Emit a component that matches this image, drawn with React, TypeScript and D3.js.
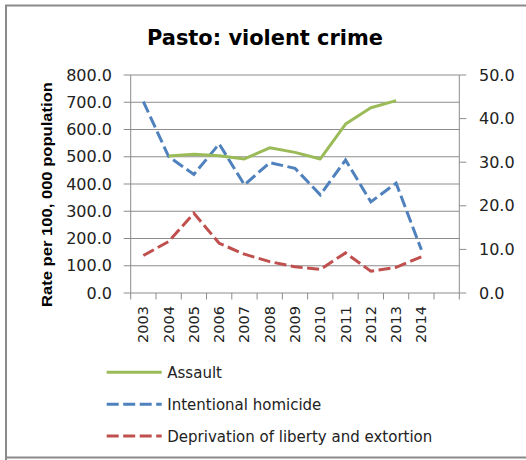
import React from "react";
import * as d3 from "d3";

const years = ["2003", "2004", "2005", "2006", "2007", "2008", "2009", "2010", "2011", "2012", "2013", "2014"];
const emptySlots = [""];
const assault: (number | null)[] = [null, 503, 509, 504, 492, 533, 516, 492, 620, 680, 706, null];
const homicide: (number | null)[] = [43.9, 31.3, 27.2, 34.2, 24.8, 29.9, 28.6, 22.5, 30.5, 20.9, 25.2, 9.9];
const deprivation: (number | null)[] = [8.6, 11.8, 18.3, 11.4, 8.9, 7.2, 6.0, 5.4, 9.2, 5.0, 5.9, 8.3];
const leftTicks = [0, 100, 200, 300, 400, 500, 600, 700, 800];
const rightTicks = [0, 10, 20, 30, 40, 50];
const legendLabels = ["Assault", "Intentional homicide", "Deprivation of liberty and extortion"];

const FONT = "DejaVu Sans, Verdana, sans-serif";
const GREEN = "#9BBB59";
const BLUE = "#4F81BD";
const RED = "#C0504D";
const GRID = "#8c8c8c";

export default function App() {
  const left = 130.7, right = 459.3, top = 75, bottom = 293;
  const cats = [...years, ...emptySlots];
  const x = d3.scaleBand<string>().domain(cats.map((c, i) => c + "#" + i)).range([left, right]).padding(0);
  const xc = (i: number) => (x(cats[i] + "#" + i) as number) + x.bandwidth() / 2;
  const yL = d3.scaleLinear().domain([0, 800]).range([bottom, top]);
  const yR = d3.scaleLinear().domain([0, 50]).range([bottom, top]);

  const mk = (vals: (number | null)[], sc: d3.ScaleLinear<number, number>) =>
    d3
      .line<number | null>()
      .defined((d) => d !== null)
      .x((_, i) => xc(i))
      .y((d) => sc(d as number))(vals) || "";

  const boundaries = d3.range(cats.length + 1).map((i) => left + i * x.bandwidth());

  const series = [
    { label: legendLabels[0], color: GREEN, dash: undefined as string | undefined },
    { label: legendLabels[1], color: BLUE, dash: "12 4.5" },
    { label: legendLabels[2], color: RED, dash: "12 4.5" },
  ];

  return (
    <svg width={526} height={460} style={{ position: "absolute", left: 0, top: 0, background: "#fff" }}>
      <rect x={0} y={0} width={526} height={460} fill="#fff" />
      {/* border */}
      <path d="M6,460 L6,5.5 L526,5.5" fill="none" stroke="#8a8a8a" strokeWidth={2} />
      <path d="M6,457.5 L526,457.5" fill="none" stroke="#8a8a8a" strokeWidth={2} />

      <text
        x={265}
        y={44.5}
        textAnchor="middle"
        fontFamily={FONT}
        fontWeight="bold"
        fontSize={22}
        textLength={236}
        lengthAdjust="spacingAndGlyphs"
        fill="#000"
      >
        Pasto: violent crime
      </text>

      {/* gridlines */}
      {leftTicks.map((t) => (
        <line key={"g" + t} x1={left - 7} x2={right} y1={yL(t)} y2={yL(t)} stroke={GRID} strokeWidth={1} />
      ))}
      {/* left axis */}
      <line x1={left} x2={left} y1={top} y2={bottom} stroke={GRID} strokeWidth={1} />
      {leftTicks.map((t) => (
        <text key={"lt" + t} x={112} y={yL(t) + 5.5} textAnchor="end" fontFamily={FONT} fontSize={16} fill="#222">
          {t.toFixed(1)}
        </text>
      ))}
      {/* right axis */}
      <line x1={right} x2={right} y1={top} y2={bottom} stroke={GRID} strokeWidth={1} />
      {rightTicks.map((t) => (
        <g key={"rt" + t}>
          <line x1={right} x2={right + 7} y1={yR(t)} y2={yR(t)} stroke={GRID} strokeWidth={1} />
          <text x={479} y={yR(t) + 5.5} textAnchor="start" fontFamily={FONT} fontSize={16} fill="#222">
            {t.toFixed(1)}
          </text>
        </g>
      ))}
      {/* x axis ticks */}
      {boundaries.map((bx, i) => (
        <line key={"xt" + i} x1={bx} x2={bx} y1={bottom} y2={bottom + 6.5} stroke={GRID} strokeWidth={1} />
      ))}
      {cats.map((c, i) =>
        c ? (
          <text
            key={"xl" + i}
            transform={`translate(${xc(i) + 5},${306}) rotate(-90)`}
            textAnchor="end"
            fontFamily={FONT}
            fontSize={14.5}
            fill="#222"
          >
            {c}
          </text>
        ) : null
      )}

      {/* y axis title */}
      <text
        transform={`translate(51.5,194.5) rotate(-90)`}
        textAnchor="middle"
        fontFamily="Liberation Sans, Arial, sans-serif"
        fontWeight="bold"
        fontSize={15.5}
        textLength={225}
        lengthAdjust="spacingAndGlyphs"
        fill="#000"
      >
        Rate per 100, 000 population
      </text>

      {/* lines */}
      <path d={mk(deprivation, yR)} fill="none" stroke={RED} strokeWidth={3} strokeDasharray="12 4.5" />
      <path d={mk(homicide, yR)} fill="none" stroke={BLUE} strokeWidth={3} strokeDasharray="12 4.5" />
      <path d={mk(assault, yL)} fill="none" stroke={GREEN} strokeWidth={3} strokeLinejoin="round" />

      {/* legend */}
      {series.map((s, i) => {
        const ly = 372.3 + i * 31.9;
        return (
          <g key={"lg" + i}>
            <line x1={106.7} x2={161.7} y1={ly} y2={ly} stroke={s.color} strokeWidth={3} strokeDasharray={s.dash} />
            <text x={167.3} y={ly + 5.5} fontFamily={FONT} fontSize={15} fill="#222">
              {s.label}
            </text>
          </g>
        );
      })}
    </svg>
  );
}
